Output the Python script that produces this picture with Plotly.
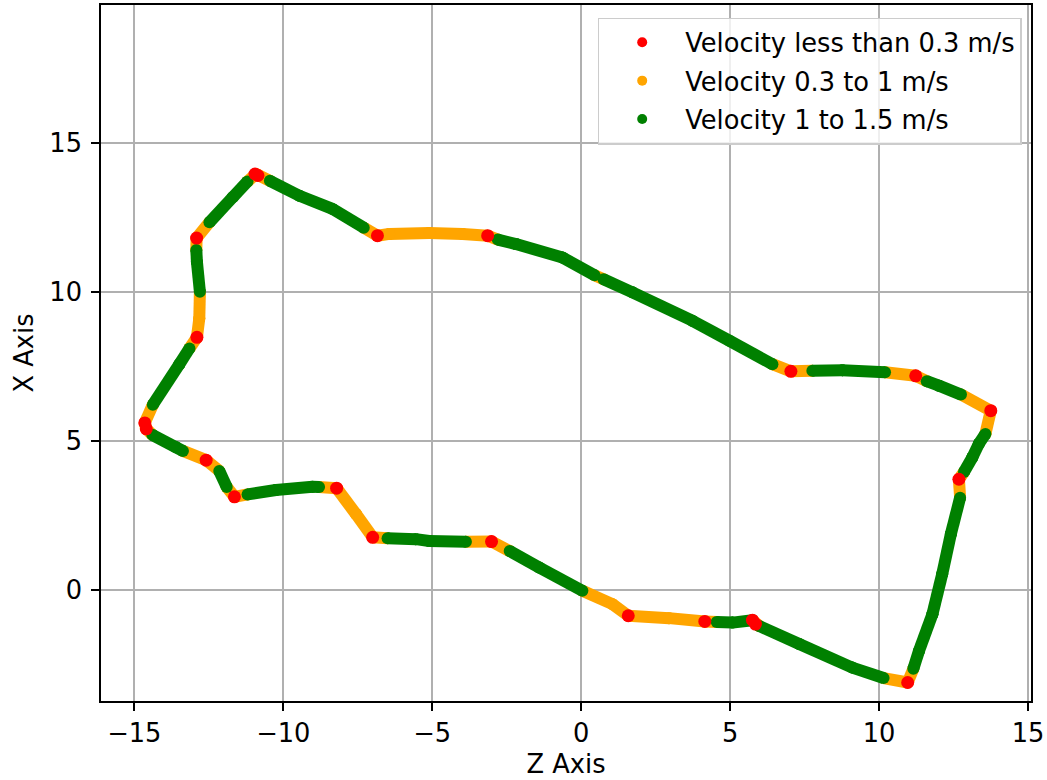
import plotly.graph_objects as go

# Closed walking path (Z, X in metres), listed in travel order.
# path_speed gives the speed band of the stretch that starts at each vertex.
path_z = [-10.92, -10.45, -9.46, -8.35, -7.30, -6.84, -6.44, -5.10, -3.98, -3.14,
          -2.80, -2.19, -0.63, 0.45, 0.75, 1.72, 3.73, 4.97, 6.42, 7.04,
          7.76, 8.77, 10.20, 11.23, 11.60, 12.01, 12.75, 13.75, 13.57, 13.35,
          13.13, 12.85, 12.68, 12.72, 12.41, 12.12, 11.79, 11.34, 11.15, 10.96,
          10.15, 9.10, 7.32, 5.97, 5.75, 5.08, 4.55, 4.15, 2.95, 1.58,
          1.05, 0.04, -1.41, -2.40, -3.01, -3.87, -5.10, -5.55, -6.50, -7.00,
          -7.56, -8.21, -8.80, -9.02, -10.25, -11.20, -11.64, -11.90, -12.15, -12.59,
          -13.37, -13.60, -14.40, -14.60, -14.65, -14.38, -13.49, -13.15, -12.90, -12.82,
          -12.80, -12.90, -12.92, -12.91, -12.48, -11.70, -11.20]
path_x = [13.95, 13.72, 13.22, 12.78, 12.15, 11.88, 11.94, 11.97, 11.94, 11.88,
          11.75, 11.60, 11.15, 10.55, 10.42, 9.98, 9.03, 8.36, 7.57, 7.33,
          7.35, 7.37, 7.30, 7.18, 7.00, 6.85, 6.55, 6.01, 5.23, 4.90,
          4.44, 3.95, 3.71, 3.09, 1.87, 0.53, -0.82, -2.05, -2.65, -3.11,
          -2.96, -2.61, -1.82, -1.21, -1.02, -1.10, -1.08, -1.06, -0.95, -0.87,
          -0.48, -0.03, 0.75, 1.30, 1.62, 1.61, 1.64, 1.70, 1.73, 1.76,
          2.54, 3.41, 3.45, 3.46, 3.35, 3.20, 3.12, 3.45, 3.99, 4.35,
          4.66, 4.78, 5.20, 5.40, 5.60, 6.21, 7.57, 8.10, 8.47, 9.10,
          10.00, 11.00, 11.40, 11.80, 12.33, 13.17, 13.70]
path_speed = ["mid", "fast", "fast", "fast", "mid", "mid", "mid", "mid", "mid", "mid",
              "fast", "fast", "fast", "mid", "fast", "fast", "fast", "fast", "mid", "mid",
              "fast", "fast", "mid", "mid", "fast", "fast", "mid", "mid", "fast", "fast",
              "fast", "mid", "mid", "fast", "fast", "fast", "fast", "fast", "mid", "mid",
              "fast", "fast", "fast", "mid", "fast", "fast", "mid", "mid", "mid", "mid",
              "mid", "fast", "fast", "mid", "mid", "fast", "fast", "fast", "mid", "mid",
              "mid", "mid", "fast", "fast", "fast", "mid", "mid", "fast", "mid", "mid",
              "fast", "fast", "mid", "mid", "mid", "fast", "fast", "mid", "mid", "mid",
              "fast", "fast", "mid", "mid", "fast", "fast", "mid"]

# Points where the walker was nearly stopped (< 0.3 m/s)
stop_z = [-10.95, -10.85, -6.84, -3.14, 7.04, 11.23, 13.75, 12.68, 10.96, 5.75,
          5.85, 4.15, 1.58, -3.01, -7.00, -8.21, -11.64, -12.59, -14.60, -14.65,
          -12.90, -12.91]
stop_x = [13.95, 13.90, 11.88, 11.88, 7.33, 7.18, 6.01, 3.71, -3.11, -1.02,
          -1.15, -1.06, -0.87, 1.62, 1.76, 3.41, 3.12, 4.35, 5.40, 5.60,
          8.47, 11.80]

band_names = {
    "slow": "Velocity less than 0.3 m/s",
    "mid": "Velocity 0.3 to 1 m/s",
    "fast": "Velocity 1 to 1.5 m/s",
}
band_colors = {"slow": "#ff0000", "mid": "#ffa500", "fast": "#008000"}

LINE_W = 12
FONT = dict(family="DejaVu Sans", size=25.7, color="black")


def band_segments(band):
    zs, xs = [], []
    n = len(path_z)
    for i in range(n):
        if path_speed[i] != band:
            continue
        j = (i + 1) % n
        zs += [path_z[i], path_z[j], None]
        xs += [path_x[i], path_x[j], None]
    return zs, xs


fig = go.Figure()

for band in ["mid", "fast"]:
    zs, xs = band_segments(band)
    fig.add_trace(go.Scatter(
        x=zs, y=xs, mode="lines+markers",
        line=dict(color=band_colors[band], width=LINE_W),
        marker=dict(color=band_colors[band], size=LINE_W, line=dict(width=0)),
        showlegend=False, hoverinfo="skip",
    ))

fig.add_trace(go.Scatter(
    x=stop_z, y=stop_x, mode="markers",
    marker=dict(color=band_colors["slow"], size=13, line=dict(width=0)),
    showlegend=False,
))

# legend entries
for k, band in enumerate(["slow", "mid", "fast"]):
    fig.add_trace(go.Scatter(
        x=[None], y=[None], mode="markers", name=band_names[band],
        legendgroup=band, legendrank=k + 1,
        marker=dict(color=band_colors[band], size=10),
    ))

axis_common = dict(
    showline=True, linecolor="black", linewidth=1.6, mirror=True,
    ticks="outside", ticklen=8, tickwidth=1.6, tickcolor="black",
    showgrid=True, gridcolor="#b0b0b0", gridwidth=1.5,
    zeroline=False, dtick=5,
    tickfont=FONT, title_font=FONT,
)

fig.update_layout(
    width=1047, height=780,
    margin=dict(l=101, r=14, t=3, b=79),
    plot_bgcolor="white", paper_bgcolor="white",
    font=FONT,
    xaxis=dict(range=[-16.12, 15.10], ticklabelstandoff=0,
               title=dict(text="Z Axis", standoff=8), **axis_common),
    yaxis=dict(range=[-3.73, 19.62], ticklabelstandoff=4,
               title=dict(text="X Axis", standoff=8), **axis_common),
    legend=dict(
        x=0.99, y=0.982, xanchor="right", yanchor="top",
        bgcolor="rgba(255,255,255,0.8)", bordercolor="#cccccc", borderwidth=1.5,
        font=FONT,
        itemwidth=76, tracegroupgap=2,
    ),
)

fig.write_html("out.html")
